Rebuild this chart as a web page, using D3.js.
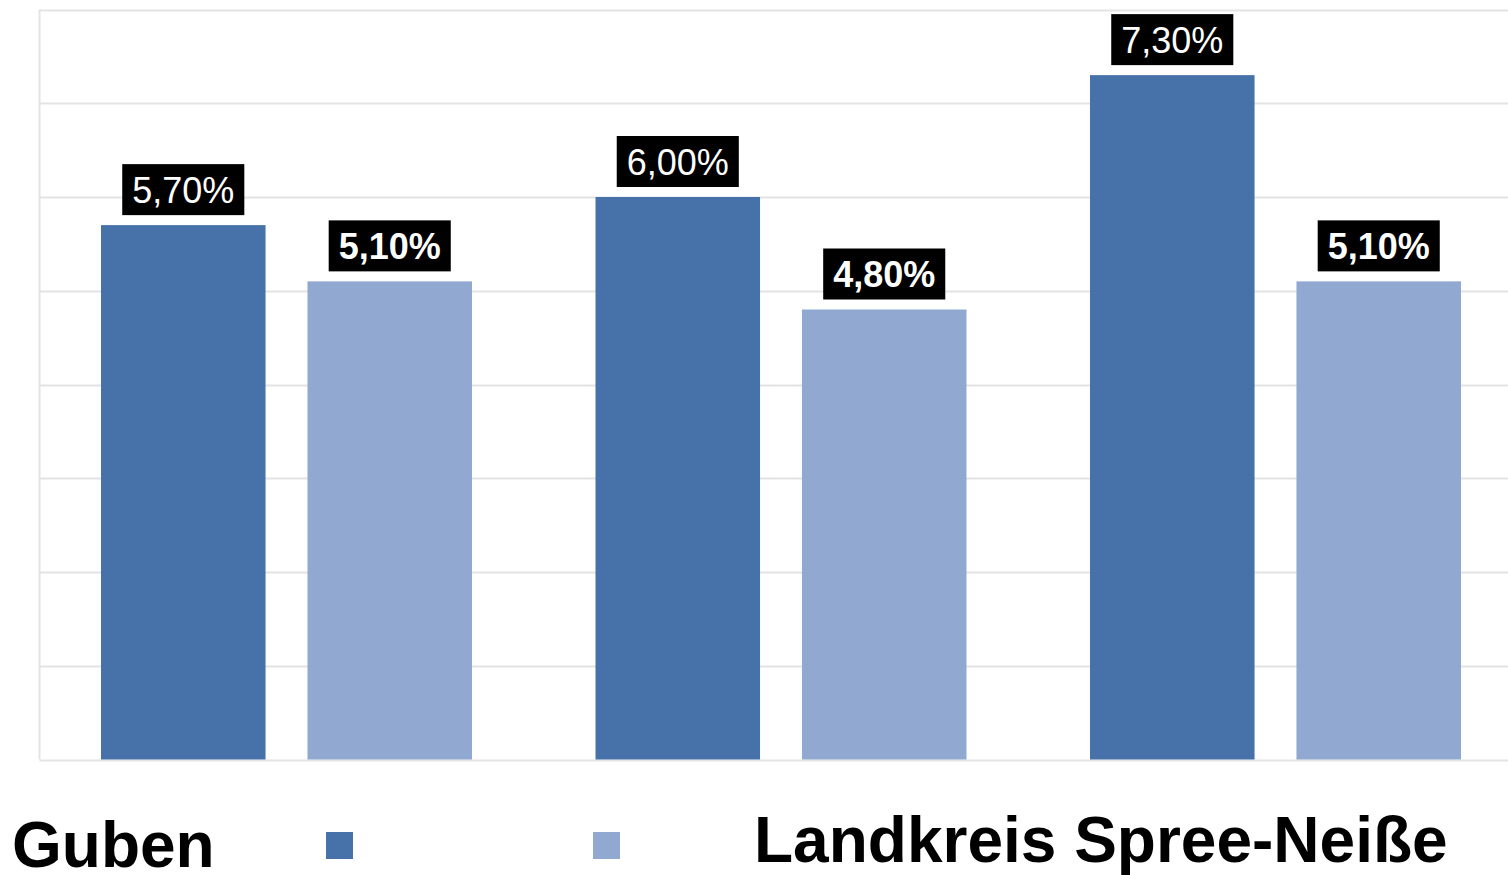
<!DOCTYPE html>
<html>
<head>
<meta charset="utf-8">
<script src="https://cdn.jsdelivr.net/npm/d3@7/dist/d3.min.js"></script>
<style>
html,body{margin:0;padding:0;background:#fff;}
svg{display:block;font-family:"Liberation Sans",Arial,sans-serif;}
</style>
</head>
<body>
<svg id="chart" width="1508" height="875"></svg>
<script>
const categories = ["Gruppe 1", "Gruppe 2", "Gruppe 3"];
const seriesNames = ["Guben", "Landkreis Spree-Neiße"];
const gubenValues = [5.7, 6.0, 7.3];
const landkreisValues = [5.1, 4.8, 5.1];
const valueLabelsGuben = ["5,70%", "6,00%", "7,30%"];
const valueLabelsLandkreis = ["5,10%", "4,80%", "5,10%"];
const yTicks = [0, 1, 2, 3, 4, 5, 6, 7, 8];
const colors = ["#4672a9", "#91a9d0"];

(function () {
const svg = d3.select("#chart");
const mLeft = 39.5, mRight = 1523, mTop = 9.5, mBottom = 759.5;

const y = d3.scaleLinear().domain([0, 8]).range([mBottom, mTop]);
const x0 = d3.scaleBand().domain(categories).range([mLeft, mRight]).paddingInner(0).paddingOuter(0);
const x1 = d3.scaleBand().domain(seriesNames).range([61.5, 432.5]).paddingInner(0.203).paddingOuter(0);

// gridlines
svg.append("g").selectAll("line").data(yTicks).join("line")
  .attr("x1", mLeft).attr("x2", 1508)
  .attr("y1", d => Math.round(y(d)) + 0.5).attr("y2", d => Math.round(y(d)) + 0.5)
  .attr("stroke", "#e3e3e3").attr("stroke-width", 2);
// left axis line
svg.append("line").attr("x1", mLeft).attr("x2", mLeft).attr("y1", y(8)).attr("y2", y(0))
  .attr("stroke", "#e3e3e3").attr("stroke-width", 2);

const data = categories.map((c, i) => ({
  cat: c,
  vals: [
    {s: seriesNames[0], v: gubenValues[i], label: valueLabelsGuben[i], bold: false},
    {s: seriesNames[1], v: landkreisValues[i], label: valueLabelsLandkreis[i], bold: true}
  ]
}));

const groups = svg.append("g").selectAll("g").data(data).join("g")
  .attr("transform", d => `translate(${x0(d.cat)},0)`);

groups.selectAll("rect").data(d => d.vals).join("rect")
  .attr("x", d => x1(d.s)).attr("width", x1.bandwidth())
  .attr("y", d => y(d.v)).attr("height", d => y(0) - y(d.v))
  .attr("fill", (d, i) => colors[i]);

const labels = groups.selectAll("g.lab").data(d => d.vals).join("g").attr("class", "lab");
labels.each(function(d) {
  const g = d3.select(this);
  const cx = x1(d.s) + x1.bandwidth() / 2;
  const boxBottom = y(d.v) - 10;
  const boxH = 51;
  const t = g.append("text")
    .attr("x", cx).attr("y", boxBottom - boxH / 2 + 13)
    .attr("text-anchor", "middle")
    .attr("font-size", 36).attr("font-weight", d.bold ? "bold" : "normal")
    .attr("fill", "#fff").text(d.label);
  const w = t.node().getComputedTextLength() + 20;
  g.insert("rect", "text").attr("x", cx - w / 2).attr("y", boxBottom - boxH)
    .attr("width", w).attr("height", boxH).attr("fill", "#000");
});

// legend
const legend = svg.append("g");
legend.append("text").attr("x", 12).attr("y", 867).attr("font-size", 64).attr("font-weight", "bold")
  .attr("fill", "#000").text(seriesNames[0]);
legend.append("rect").attr("x", 326).attr("y", 832).attr("width", 27).attr("height", 27).attr("fill", colors[0]);
legend.append("rect").attr("x", 593).attr("y", 832).attr("width", 27).attr("height", 27).attr("fill", colors[1]);
legend.append("text").attr("x", 754).attr("y", 862).attr("font-size", 64).attr("font-weight", "bold")
  .attr("fill", "#000").text(seriesNames[1]);
})();
</script>
</body>
</html>
